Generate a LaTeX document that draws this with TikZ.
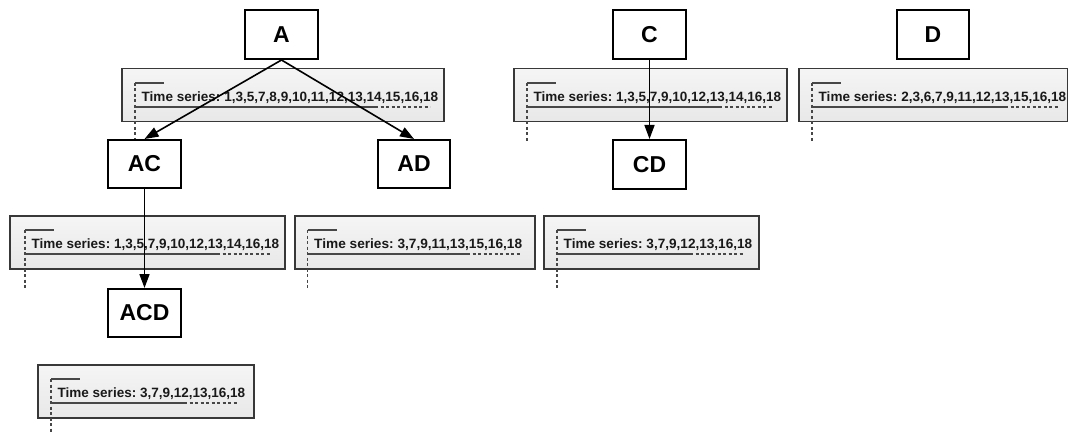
\documentclass[tikz,border=0pt]{standalone}
\usepackage{fontspec}
\usepackage{graphicx}
\setmainfont{Liberation Sans}
\usetikzlibrary{arrows.meta}
\newcommand\tsfont{\fontsize{13.5}{15}\selectfont\bfseries\frenchspacing}
\newlength\tsw
\newcommand\tsfit[2]{\settowidth\tsw{#2}\pgfmathsetmacro\tsscale{(#1)/\tsw}\scalebox{\tsscale}[1]{#2}}
\tikzset{
  blk/.style={draw=black, line width=2pt, fill=white, inner sep=0pt,
    font=\fontsize{23}{26}\selectfont\bfseries},
  tsbg/.style={draw=black!78, line width=1.5pt, inner sep=0pt, anchor=north west,
    top color=black!4, middle color=black!19, bottom color=black!9},
  tstext/.style={anchor=west, inner sep=0pt, text=black!90, font=\tsfont},
  brk/.style={draw=black!72, line width=1.2pt},
  brkd/.style={brk, dash pattern=on 3pt off 2.5pt},
  link/.style={draw=black, line width=1.6pt, -{Triangle[length=14pt,width=10pt]}},
}
% #1 name, #2 left, #3 top, #4 right, #5 bracket x, #6 solid end, #7 dash end, #8 text end, #9 text
\newcommand\tsbox[9]{%
  \node[tsbg, minimum width=#4pt-#2pt, minimum height=53pt] (#1) at (#2,#3) {};
  \draw[brk] (#5,#3+15) -- (#5+29,#3+15);
  \draw[brkd] (#5,#3+15) -- (#5,#3+73);
  \draw[brk] (#5,#3+39) -- (#6,#3+39);
  \draw[brkd] (#6,#3+39) -- (#7,#3+39);
  \node[tstext] (#1t) at (#5+6.5,#3+29.5) {\tsfit{#8-#5-6.5}{#9}};
}
\begin{document}
\begin{tikzpicture}[x=1pt,y=-1pt]
  \fill[white] (0,0) rectangle (1068,433);
  \useasboundingbox (0,0) rectangle (1068,433);

  \tsbox{tsA}{121}{68}{443}{135}{375}{430}{438}{Time series: 1,3,5,7,8,9,10,11,12,13,14,15,16,18}
  \tsbox{tsC}{513}{68}{786}{527}{719}{772}{781}{Time series: 1,3,5,7,9,10,12,13,14,16,18}
  \tsbox{tsD}{798}{68}{1067}{812}{1005}{1058}{1066}{Time series: 2,3,6,7,9,11,12,13,15,16,18}
  \tsbox{tsAC}{9}{215}{284}{25}{217}{270}{279}{Time series: 1,3,5,7,9,10,12,13,14,16,18}
  \tsbox{tsAD}{294}{215}{534}{307.5}{467}{520}{522}{Time series: 3,7,9,11,13,15,16,18}
  \tsbox{tsCD}{543}{215}{758}{557}{690}{743}{752}{Time series: 3,7,9,12,13,16,18}
  \tsbox{tsACD}{37}{364}{253}{51}{184}{238}{245}{Time series: 3,7,9,12,13,16,18}

  \node[blk, minimum width=73pt, minimum height=49pt] (A)   at (281.5,34.5) {A};
  \node[blk, minimum width=73pt, minimum height=49pt] (C)   at (649.5,34.5) {C};
  \node[blk, minimum width=72pt, minimum height=49pt] (D)   at (933,34.5) {D};
  \node[blk, minimum width=73pt, minimum height=48pt] (AC)  at (144.5,164) {AC};
  \node[blk, minimum width=72pt, minimum height=48pt] (AD)  at (414,164) {AD};
  \node[blk, minimum width=73pt, minimum height=49pt] (CD)  at (649.5,164.5) {CD};
  \node[blk, minimum width=73pt, minimum height=48pt] (ACD) at (144.5,313) {ACD};

  \draw[link] (A.south) -- (AC.north);
  \draw[link] (A.south) -- (AD.north);
  \draw[link] (C.south) -- (CD.north);
  \draw[link] (AC.south) -- (ACD.north);
\end{tikzpicture}
\end{document}
